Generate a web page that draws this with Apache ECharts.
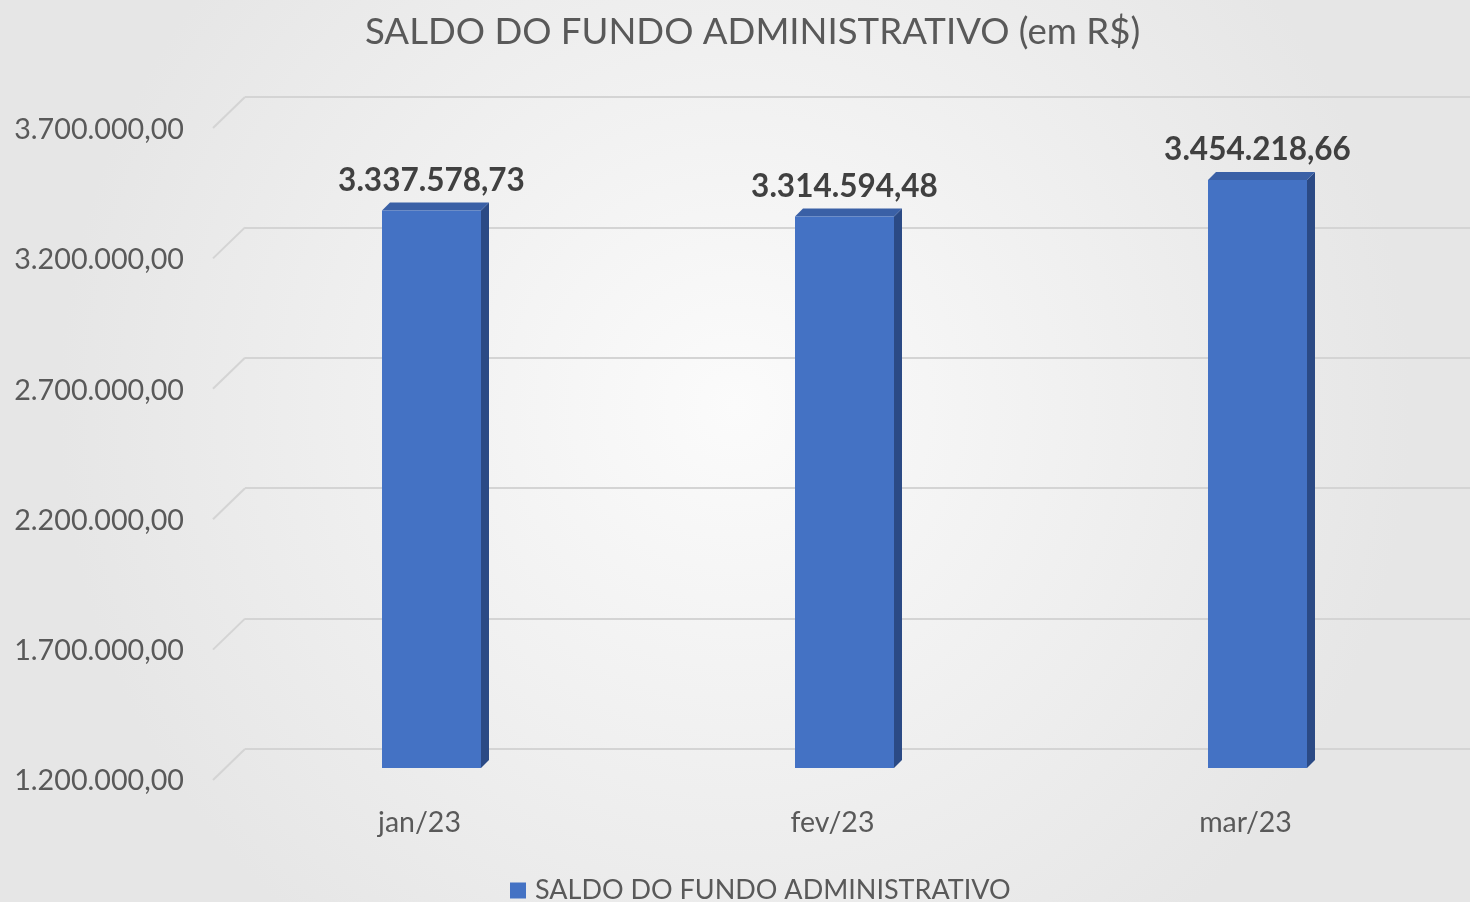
<!DOCTYPE html>
<html>
<head>
<meta charset="utf-8">
<title>Saldo do Fundo Administrativo</title>
<script src="https://cdn.jsdelivr.net/npm/echarts@6/dist/echarts.min.js"></script>
<style>
  html, body { margin: 0; padding: 0; }
  #chart { width: 1470px; height: 902px; }
</style>
</head>
<body>
<div id="chart"></div>
<script>
// dados do gráfico
var meses = ["jan/23", "fev/23", "mar/23"];
var saldos = [3337578.73, 3314594.48, 3454218.66];
var ticksEixo = [1200000, 1700000, 2200000, 2700000, 3200000, 3700000];
var nomeSerie = "SALDO DO FUNDO ADMINISTRATIVO";

// formata no padrão brasileiro: 3.337.578,73
function formatBR(v) {
  var partes = v.toFixed(2).split(".");
  var inteiro = partes[0].replace(/\B(?=(\d{3})+(?!\d))/g, ".");
  return inteiro + "," + partes[1];
}

var fonte = "Lato, 'Open Sans', sans-serif";
var PROF = 8;       // profundidade da barra 3d
var LARG = 99;      // largura da face frontal
var DX = -32, DY = 31; // deslocamento parede -> frente

var chart = echarts.init(document.getElementById("chart"));
chart.setOption({
  backgroundColor: new echarts.graphic.RadialGradient(0.5, 0.45, 0.75, [
    { offset: 0, color: "#fbfbfb" },
    { offset: 1, color: "#e6e6e6" }
  ]),
  title: {
    text: "SALDO DO FUNDO ADMINISTRATIVO (em R$)",
    left: 360,
    top: 9,
    textStyle: { fontFamily: fonte, fontSize: 36.6, fontWeight: "normal", color: "#595959" }
  },
  legend: {
    data: [nomeSerie],
    top: 872,
    left: 505,
    icon: "rect",
    itemWidth: 16,
    itemHeight: 16,
    textStyle: { fontFamily: fonte, fontSize: 27, color: "#595959", padding: [0, 0, 0, 4] }
  },
  grid: [
    // parede do fundo (linhas de grade)
    { left: 245, right: 0, top: 97, height: 652 },
    // plano frontal (rótulos dos eixos)
    { left: 213, right: 18, top: 130, height: 651 },
    // barras
    { left: 225, right: 6, top: 116, height: 652 }
  ],
  xAxis: [
    { gridIndex: 0, type: "value", show: false, min: 0, max: 1 },
    {
      gridIndex: 1, type: "category", data: meses,
      axisLine: { show: false }, axisTick: { show: false },
      axisLabel: { margin: 27, fontFamily: fonte, fontSize: 28.5, color: "#595959" }
    },
    { gridIndex: 2, type: "category", data: meses, show: false }
  ],
  yAxis: [
    {
      gridIndex: 0, type: "value", min: 1200000, max: 3700000, interval: 500000,
      axisLabel: { show: false }, axisLine: { show: false }, axisTick: { show: false },
      splitLine: { lineStyle: { color: "#d4d4d4", width: 2 } }
    },
    {
      gridIndex: 1, type: "value", min: 1200000, max: 3700000, interval: 500000,
      axisLine: { show: false }, axisTick: { show: false }, splitLine: { show: false },
      axisLabel: {
        margin: 29, fontFamily: fonte, fontSize: 28.7, color: "#595959",
        formatter: function (v) { return formatBR(v); }
      }
    },
    { gridIndex: 2, type: "value", min: 1200000, max: 3700000, show: false }
  ],
  series: [
    {
      // diagonais das linhas de grade (parede -> frente)
      type: "custom",
      xAxisIndex: 0, yAxisIndex: 0,
      silent: true,
      data: ticksEixo.map(function (t) { return [0, t]; }),
      renderItem: function (params, api) {
        var p = api.coord([0, api.value(1)]);
        return {
          type: "line",
          shape: { x1: p[0], y1: p[1], x2: p[0] + DX, y2: p[1] + DY },
          style: { stroke: "#d4d4d4", lineWidth: 2 }
        };
      }
    },
    {
      name: nomeSerie,
      type: "custom",
      xAxisIndex: 2, yAxisIndex: 2,
      itemStyle: { color: "#4472c4" },
      data: saldos.map(function (v, i) { return [i, v]; }),
      renderItem: function (params, api) {
        var topo = api.coord([api.value(0), api.value(1)]);
        var base = api.coord([api.value(0), 1200000]);
        var x0 = topo[0] - LARG / 2, x1 = topo[0] + LARG / 2;
        var yT = topo[1], yB = base[1];
        return {
          type: "group",
          children: [
            {
              type: "polygon",
              shape: { points: [[x1, yT], [x1 + PROF, yT - PROF], [x1 + PROF, yB - PROF], [x1, yB]] },
              style: { fill: "#2b4a85" }
            },
            {
              type: "polygon",
              shape: { points: [[x0, yT], [x0 + PROF, yT - PROF], [x1 + PROF, yT - PROF], [x1, yT]] },
              style: { fill: "#3a60a6" }
            },
            {
              type: "rect",
              shape: { x: x0, y: yT, width: LARG, height: yB - yT },
              style: { fill: "#4472c4" }
            },
            {
              type: "text",
              x: topo[0],
              y: yT - PROF - 22,
              style: {
                text: formatBR(api.value(1)),
                align: "center",
                verticalAlign: "middle",
                fontFamily: fonte,
                fontSize: 31.5,
                fontWeight: "bold",
                fill: "#404040"
              }
            }
          ]
        };
      }
    }
  ]
});
</script>
</body>
</html>
